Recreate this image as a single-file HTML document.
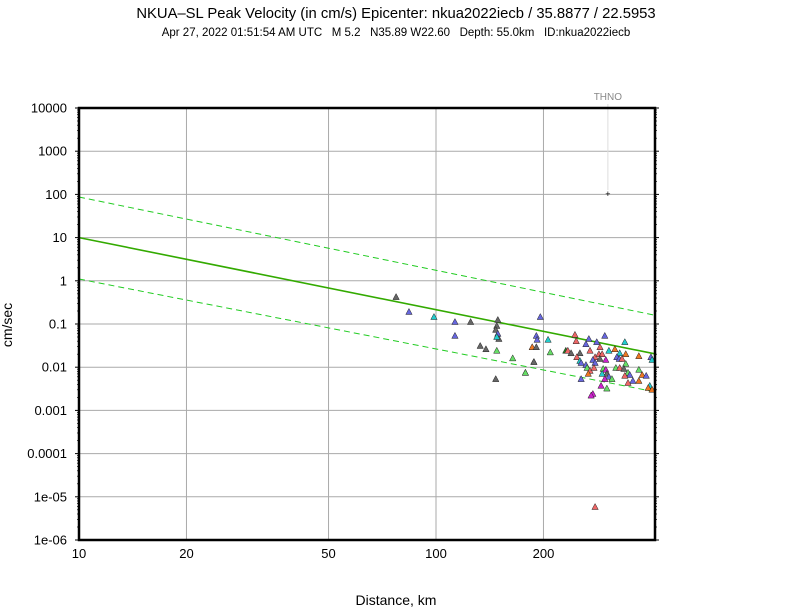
<!DOCTYPE html>
<html><head><meta charset="utf-8"><style>
body{margin:0;background:#fff;}
svg{display:block;font-family:"Liberation Sans",sans-serif;}
.pre{white-space:pre;}
</style></head><body>
<svg id="chart" width="792" height="612" viewBox="0 0 792 612">
<text x="396" y="18" text-anchor="middle" font-size="14.8">NKUA–SL Peak Velocity (in cm/s) Epicenter: nkua2022iecb / 35.8877 / 22.5953</text>
<text class="pre" x="396" y="36" text-anchor="middle" font-size="11.5">Apr 27, 2022 01:51:54 AM UTC   M 5.2   N35.89 W22.60   Depth: 55.0km   ID:nkua2022iecb</text>
<text transform="translate(12,325) rotate(-90)" text-anchor="middle" font-size="14">cm/sec</text>
<text x="396" y="605" text-anchor="middle" font-size="14">Distance, km</text>
<g id="grid"></g><g id="lines"></g><g id="pts"></g><g id="axes"></g>
</svg>
<script>
const distances=[77.3,84,98.7,113,113,125,133,138,149,148,147,149,150,148,148,164,178,188,196,191,192,206,186,191,209,
245,247,268,297,338,263,282,288,305,317,327,340,370,400,403,
231,234,239,253,270,248,253,255,263,279,286,292,288,299,275,279,265,270,277,267,255,294,299,301,292,305,311,297,
321,326,332,340,319,327,336,345,349,338,356,345,370,370,378,388,397,393,403,290,301,275,272,147,178,188,279];
const velocities=[0.42,0.19,0.145,0.111,0.053,0.111,0.031,0.026,0.124,0.09,0.073,0.059,0.045,0.05,0.024,0.016,0.0074,0.0132,0.145,0.053,0.043,0.043,0.029,0.029,0.022,
0.056,0.040,0.045,0.053,0.038,0.034,0.038,0.029,0.024,0.026,0.021,0.020,0.018,0.017,0.0147,
0.024,0.024,0.021,0.021,0.024,0.017,0.0139,0.0125,0.0112,0.017,0.020,0.020,0.0155,0.0147,0.0147,0.0125,0.0096,0.0082,0.0096,0.007,0.0053,0.0091,0.0087,0.007,0.007,0.006,0.0053,0.0053,
0.017,0.0155,0.0155,0.0119,0.0096,0.0096,0.0091,0.0074,0.0066,0.0063,0.0048,0.0043,0.0048,0.0087,0.0066,0.0063,0.0037,0.0033,0.003,0.0037,0.0032,0.0024,0.0022,0.0053,0.0074,0.0132,5.8e-6];
const colors=["#666","#6666dd","#22cccc","#6666dd","#6666dd","#666","#666","#666","#666","#666","#666","#6666dd","#666","#22cccc","#66dd66","#66dd66","#66dd66","#666","#6666dd","#6666dd","#6666dd","#22cccc","#ee7722","#666","#66dd66",
"#ee6666","#ee6666","#6666dd","#6666dd","#22cccc","#6666dd","#6666dd","#ee6666","#22cccc","#ee7722","#22cccc","#ee7722","#ee7722","#6666dd","#22cccc",
"#227722","#ee6666","#666","#666","#ee6666","#ee6666","#22cccc","#6666dd","#6666dd","#ee6666","#ee6666","#ee6666","#666","#cc22cc","#6666dd","#6666dd","#66dd66","#ee6666","#ee6666","#ee7722","#6666dd","#66dd66","#cc22cc","#666","#22cccc","#6666dd","#66dd66","#cc22cc",
"#6666dd","#6666dd","#ee6666","#66dd66","#66dd66","#ee6666","#666","#66dd66","#6666dd","#ee6666","#6666dd","#ee6666","#ee7722","#66dd66","#ee7722","#6666dd","#22cccc","#ee7722","#ee7722","#cc22cc","#66dd66","#cc22cc","#cc22cc","#666","#66dd66","#666","#ee6666"];
const medianEnds=[10,0.0204];
const upperEnds=[87,0.16];
const lowerEnds=[1.1,0.0027];
const yTicks=[10000,1000,100,10,1,0.1,0.01,0.001,0.0001,1e-5,1e-6];
const yTickLabels=["10000","1000","100","10","1","0.1","0.01","0.001","0.0001","1e-05","1e-06"];
const xTicks=[10,20,50,100,200];
const xTickLabels=["10","20","50","100","200"];
const xMin=10,xMax=410,L=79,R=655,T=108,B=540;
const X=d=>L+(Math.log10(d)-1)*357;
const Y=v=>T+(4-Math.log10(v))*43.2;
const NS="http://www.w3.org/2000/svg";
function mk(tag,parent,attrs){const e=document.createElementNS(NS,tag);for(const k in attrs)e.setAttribute(k,attrs[k]);parent.appendChild(e);return e;}
const grid=document.getElementById('grid'),lines=document.getElementById('lines'),pts=document.getElementById('pts'),axes=document.getElementById('axes');
yTicks.forEach((v,i)=>{
 const y=Y(v);
 const g=mk('line',grid,{x1:L,x2:R,y1:y,y2:y,stroke:'#aaa','stroke-width':1});
 
 
 const t=mk('text',axes,{x:67,y:y+4.5,'text-anchor':'end','font-size':13});
 t.textContent=yTickLabels[i];
 
 
 mk('line',axes,{x1:L-4,x2:L,y1:y,y2:y,stroke:'#000'});
 mk('line',axes,{x1:R,x2:R+4,y1:y,y2:y,stroke:'#000'});
 if(i<yTicks.length-1){for(let m=2;m<10;m++){const ym=Y(v/10*m);mk('line',axes,{x1:L-2,x2:L,y1:ym,y2:ym,stroke:'#000','stroke-width':0.7});mk('line',axes,{x1:R,x2:R+2,y1:ym,y2:ym,stroke:'#000','stroke-width':0.7});}}
});
xTicks.forEach((d,i)=>{
 const x=X(d);
 const g=mk('line',grid,{x1:x,x2:x,y1:T,y2:B,stroke:'#aaa','stroke-width':1});
 
 
 const t=mk('text',axes,{x:x,y:B+18,'text-anchor':'middle','font-size':13});
 t.textContent=xTickLabels[i];
 
 
});
function fitLine(ends,dash,name,w,col){
 const l=mk('line',lines,{x1:X(xMin),y1:Y(ends[0]),x2:X(xMax),y2:Y(ends[1]),stroke:col,'stroke-width':w});
 if(dash)l.setAttribute('stroke-dasharray','6,4');
 
 
}
fitLine(medianEnds,false,'median-line',1.6,'#33aa00');
fitLine(upperEnds,true,'upper-bound-line',1,'#22cc22');
fitLine(lowerEnds,true,'lower-bound-line',1,'#22cc22');
distances.forEach((d,i)=>{
 const x=X(d),y=Y(velocities[i]);
 const p=mk('polygon',pts,{points:`${x},${y-3.5} ${x-3.2},${y+2.5} ${x+3.2},${y+2.5}`,fill:colors[i]||'#666',stroke:'#222','stroke-width':0.5});
 
 
});
const tx=X(303);
const tl=mk('line',pts,{x1:tx,x2:tx,y1:104,y2:190,stroke:'#ddd'});


const tp=mk('text',pts,{x:tx,y:194+3,'text-anchor':'middle','font-size':9});
tp.textContent='+';


const tt=mk('text',pts,{x:tx,y:100,'text-anchor':'middle','font-size':10,fill:'#888'});
tt.textContent='THNO';


const fr=mk('rect',axes,{x:L,y:T,width:R-L,height:B-T,fill:'none',stroke:'#000','stroke-width':2.5});


</script>
</body></html>
